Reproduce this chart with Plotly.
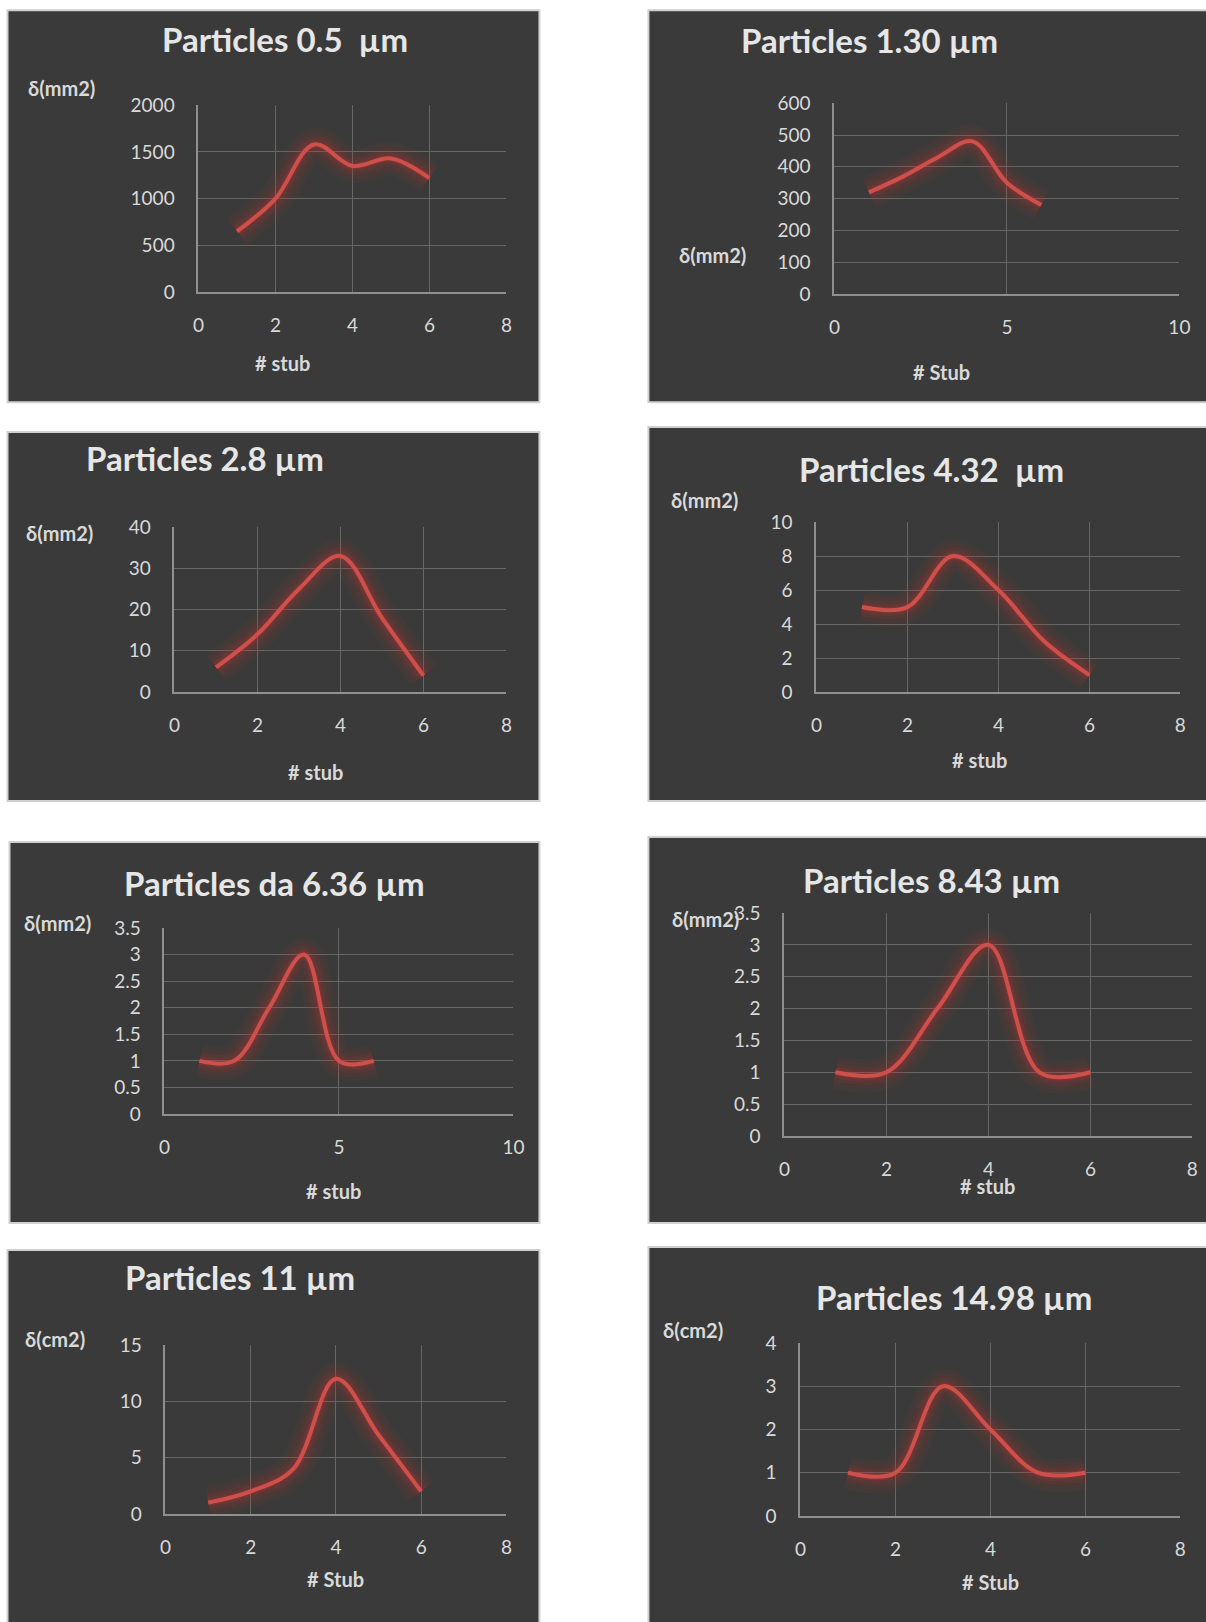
import plotly.graph_objects as go

W, H = 1206, 1622

# ---- data ----
stub = [1, 2, 3, 4, 5, 6]
p0_5 = [650, 1000, 1580, 1350, 1430, 1220]
p1_30 = [320, 370, 430, 480, 350, 280]
p2_8 = [6, 14, 25, 33, 18, 4]
p4_32 = [5, 5, 8, 6, 3, 1]
p6_36 = [1, 1, 2, 3, 1, 1]
p8_43 = [1, 1, 2, 3, 1, 1]
p11 = [1, 2, 4, 12, 7, 2]
p14_98 = [1, 1, 3, 2, 1, 1]

titles = ["Particles 0.5  µm", "Particles 1.30 µm", "Particles 2.8 µm", "Particles 4.32  µm",
          "Particles da 6.36 µm", "Particles 8.43 µm", "Particles 11 µm", "Particles 14.98 µm"]
ylabels = ["δ(mm2)", "δ(mm2)", "δ(mm2)", "δ(mm2)", "δ(mm2)", "δ(mm2)", "δ(cm2)", "δ(cm2)"]
xlabels = ["# stub", "# Stub", "# stub", "# stub", "# stub", "# stub", "# Stub", "# Stub"]
series = [p0_5, p1_30, p2_8, p4_32, p6_36, p8_43, p11, p14_98]
yranges = [(0, 2000, 500), (0, 600, 100), (0, 40, 10), (0, 10, 2),
           (0, 3.5, 0.5), (0, 3.5, 0.5), (0, 15, 5), (0, 4, 1)]
xranges = [(0, 8, 2), (0, 10, 5), (0, 8, 2), (0, 8, 2),
           (0, 10, 5), (0, 8, 2), (0, 8, 2), (0, 8, 2)]

# ---- layout (target pixel positions in the final picture) ----
boxes = [(7, 10, 539, 402), (648, 10, 1240, 402), (7, 432, 539, 801), (648, 427, 1240, 801),
         (9, 842, 539, 1223), (648, 837, 1240, 1223), (7, 1250, 539, 1660), (648, 1247, 1240, 1660)]
plots = [(198, 105, 506, 292), (834, 103, 1179, 294), (174, 527, 506, 692), (816, 522, 1180, 692),
         (164, 928, 513, 1114), (784, 913, 1192, 1136), (165, 1345, 506, 1514), (800, 1343, 1180, 1516)]
title_pos = [(285, 39), (869, 40), (205, 458), (931, 469), (274, 883), (931, 880), (240, 1277), (954, 1297)]
ylab_pos = [(61, 88), (712, 255), (59, 533), (704, 500), (57, 923), (705, 919), (55, 1339), (693, 1330)]
xlab_pos = [(282, 363), (941, 372), (315, 772), (979, 760), (333, 1191), (987, 1186), (335, 1579), (990, 1582)]

# calibration of the photographed page (observed offset / scale)
OX, OY, SC = 5.5, 11.8, 0.986

FONT = "Lato, 'Open Sans', sans-serif"
PANEL = "#3a3a3a"
TXT = "#d9d9d9"
RED = "#cf4f4a"


def px(x):
    return ((x - OX) / SC) / W


def py(y):
    return 1 - ((y - OY) / SC) / H


fig = go.Figure()
shapes = []
annotations = []

for i in range(8):
    n = "" if i == 0 else str(i + 1)
    bx0, by0, bx1, by1 = boxes[i]
    shapes.append(dict(type="rect", xref="paper", yref="paper", layer="below",
                       x0=px(bx0), x1=px(bx1), y0=py(by1), y1=py(by0),
                       fillcolor=PANEL, line=dict(color="#d0d0d0", width=2)))
    # glow layers
    for w, a in [(34, 0.05), (26, 0.07), (18, 0.10), (12, 0.14), (7, 0.2)]:
        fig.add_trace(go.Scatter(x=stub, y=series[i], mode="lines", xaxis="x" + n, yaxis="y" + n,
                                 line=dict(color=f"rgba(185,50,48,{a})", width=w, shape="spline"),
                                 hoverinfo="skip", showlegend=False))
    fig.add_trace(go.Scatter(x=stub, y=series[i], mode="lines", xaxis="x" + n, yaxis="y" + n,
                             line=dict(color=RED, width=4, shape="spline"),
                             hoverinfo="skip", showlegend=False))
    px0, py0, px1, py1 = plots[i]
    x0, x1, xd = xranges[i]
    y0, y1, yd = yranges[i]
    fig.update_layout(**{
        "xaxis" + n: dict(domain=[px(px0), px(px1)], range=[x0, x1], dtick=xd, tick0=0,
                          anchor="y" + n, showgrid=True, gridcolor="#676767", gridwidth=1.3,
                          zeroline=False, showline=True, linecolor="#8f8f8f", linewidth=2,
                          ticks="", ticklabelstandoff=15,
                          tickfont=dict(family=FONT, size=19, color=TXT), fixedrange=True),
        "yaxis" + n: dict(domain=[py(py1), py(py0)], range=[y0, y1], dtick=yd, tick0=0,
                          anchor="x" + n, showgrid=True, gridcolor="#676767", gridwidth=1.3,
                          zeroline=False, showline=True, linecolor="#8f8f8f", linewidth=2,
                          ticks="", ticklabelstandoff=18,
                          tickfont=dict(family=FONT, size=19, color=TXT), fixedrange=True),
    })
    tx, ty = title_pos[i]
    annotations.append(dict(text=f"<b>{titles[i]}</b>", x=px(tx), y=py(ty), xref="paper", yref="paper",
                            xanchor="center", yanchor="middle", showarrow=False,
                            font=dict(family=FONT, size=33, color="#e6e6e6")))
    lx, ly = ylab_pos[i]
    annotations.append(dict(text=f"<b>{ylabels[i]}</b>", x=px(lx), y=py(ly), xref="paper", yref="paper",
                            xanchor="center", yanchor="middle", showarrow=False,
                            font=dict(family=FONT, size=20, color=TXT)))
    lx, ly = xlab_pos[i]
    annotations.append(dict(text=f"<b>{xlabels[i]}</b>", x=px(lx), y=py(ly), xref="paper", yref="paper",
                            xanchor="center", yanchor="middle", showarrow=False,
                            font=dict(family=FONT, size=20, color=TXT)))

fig.update_layout(width=W, height=H, margin=dict(l=0, r=0, t=0, b=0),
                  paper_bgcolor="white", plot_bgcolor="rgba(0,0,0,0)",
                  shapes=shapes, annotations=annotations, showlegend=False)

post = ("var d=document.getElementById('{plot_id}');"
        "d.style.position='fixed';d.style.left='0px';d.style.top='0px';"
        "document.documentElement.style.margin='0';document.body.style.margin='0';"
        "document.documentElement.style.overflow='hidden';document.body.style.overflow='hidden';")

fig.write_html("out.html", config={"displayModeBar": False}, post_script=post)
